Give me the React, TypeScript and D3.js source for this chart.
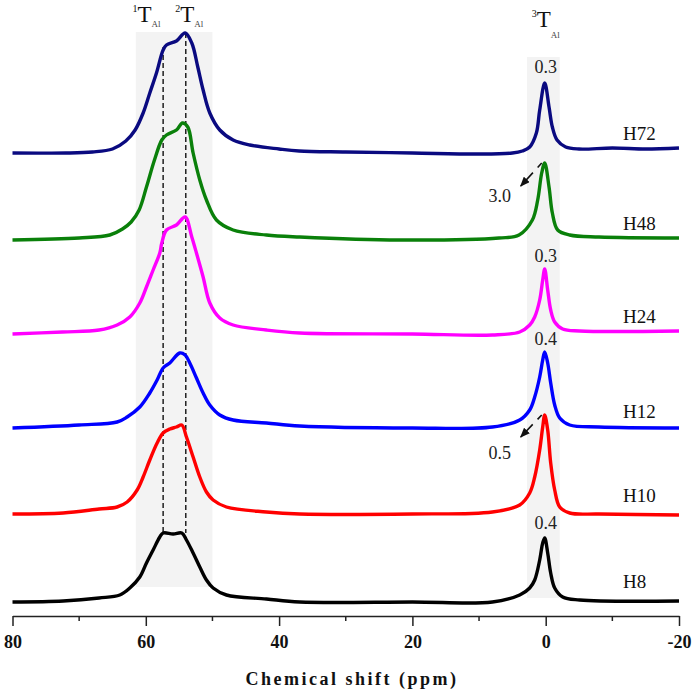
import * as d3 from "d3";
import { useEffect, useRef } from "react";

// stacked 27Al MAS NMR spectra; each point is [ppm, intensity above own baseline]
const h8: [number, number][] = [
  [80, 0], [72.4, 1], [67, 4], [63.9, 7], [62.4, 14], [60.9, 25], [59.9, 39], [58.9, 52], [57.9, 65],
  [57.4, 69], [55.9, 68], [54.6, 69], [53.9, 62], [52.9, 49], [51.9, 35], [50.9, 22], [49.9, 14],
  [47.9, 7], [41.9, 3], [36.9, 0], [20, 0], [8, 0], [3.9, 7], [2.4, 14], [1.65, 22], [0.9, 42],
  [0.45, 59], [0.15, 64], [-0.3, 49], [-0.75, 29], [-1.35, 14], [-2.55, 5], [-5.1, 2], [-20, 1],
];
const h10: [number, number][] = [
  [80, 0], [72.4, 1], [67, 5], [64.3, 7], [62.8, 12], [61.3, 24], [60.4, 37], [59.4, 54], [58.3, 71],
  [57.4, 81], [56.4, 85], [55.4, 87], [54.6, 89], [53.9, 77], [52.9, 57], [51.9, 37], [50.9, 22],
  [49.9, 14], [47.9, 7], [41.9, 2], [36.9, 0], [20, 0], [8, 2], [3.9, 9], [2.4, 21], [1.65, 37],
  [0.9, 64], [0.45, 87], [0.15, 99], [-0.3, 84], [-0.75, 51], [-1.35, 24], [-2.1, 7], [-3.6, 1],
  [-8, 0], [-20, -1],
];
const h12: [number, number][] = [
  [80, 0], [70, 3], [64.3, 6], [62.8, 11], [60.9, 21], [59.4, 35], [58.3, 48], [57.4, 60], [56.4, 65],
  [54.9, 75], [54.1, 73], [53.4, 65], [52.4, 50], [51.4, 35], [50.4, 23], [48.9, 13], [46.9, 8],
  [41.9, 5], [36.9, 2], [20, 0], [8, 1], [3.9, 8], [2.4, 18], [1.65, 31], [0.9, 51], [0.45, 68],
  [0.15, 76], [-0.3, 65], [-0.75, 45], [-1.35, 23], [-2.1, 10], [-3.6, 3], [-8, 1], [-20, 0],
];
const h24: [number, number][] = [
  [80, 0], [72.5, 2], [67, 4], [64.3, 9], [62.4, 17], [60.9, 31], [59.9, 47], [58.9, 64], [57.9, 81],
  [57.6, 91], [56.9, 104], [55.4, 109], [54.1, 117], [53.1, 97], [52.4, 81], [51.4, 57], [50.4, 31],
  [48.9, 16], [46.9, 9], [41.9, 4], [36.9, 1], [20, 0], [8, -1], [3.9, 2], [2.4, 9], [1.65, 17],
  [0.9, 34], [0.45, 54], [0.15, 65], [-0.3, 44], [-0.75, 24], [-1.35, 12], [-2.55, 5], [-5.1, 3],
  [-20, 3],
];
const h48: [number, number][] = [
  [80, 0], [70, 2], [65.4, 5], [63.5, 11], [62.2, 18], [61, 30], [59.9, 53], [58.7, 80], [57.6, 100], [56.9, 105],
  [55.4, 110], [54.5, 117], [53.7, 113], [52.9, 87], [51.9, 60], [50.9, 40], [49.4, 20], [46.9, 10],
  [41.9, 5], [36.9, 3], [22, 0], [7, 2], [4, 5], [2, 20], [1.2, 40], [0.6, 67], [0.15, 77], [-0.5, 53],
  [-1, 27], [-1.8, 10], [-3.6, 5], [-8, 3], [-20, 2],
];
const h72: [number, number][] = [
  [80, 0], [72, 0], [68, 1], [65, 4], [63, 12], [61.6, 23], [60.4, 40], [59.4, 60], [58.4, 80],
  [57.4, 103], [56.9, 108], [55.4, 112], [54.1, 120], [53.1, 110], [52.2, 86], [51.4, 63], [50.4, 40],
  [48.9, 23], [46.9, 13], [44.4, 8], [40, 4], [37, 2], [30, 1], [20, 0], [10, -1], [5, 0], [3.5, 2],
  [2.4, 6], [1.4, 20], [0.9, 43], [0.15, 70], [-0.5, 46], [-1, 26], [-1.7, 13], [-3, 6], [-5, 4],
  [-10, 5], [-15, 4], [-20, 5],
];

const samples = ["H8", "H10", "H12", "H24", "H48", "H72"];
const series = [h8, h10, h12, h24, h48, h72];
const offsets = [14, 102, 188, 282, 376, 463];
const colors = ["#000000", "#ff0000", "#0000ff", "#ff00ff", "#0a800a", "#0a0a80"];
const nameRise = [14, 12, 10, 11, 10, 13];

// peak-width labels on the 0 ppm signal: [sample index, text, ppm, rise above baseline]
const widthLabels: [number, string, number, number][] = [
  [0, "0.4", 0, 73],
  [1, "0.5", 6.9, 55],
  [2, "0.4", 0, 83],
  [3, "0.3", 0, 72],
  [4, "3.0", 6.9, 38],
  [5, "0.3", 0, 80],
];
// arrows: [sample index, from ppm, from rise, to ppm, to rise]
const arrows: [number, number, number, number, number][] = [
  [1, 0.6, 99, 3.75, 77],
  [4, 0.6, 77, 3.75, 54],
];

const siteShifts = [57.4, 54];
const bands: [number, number, number, number][] = [
  [61.5, 50, 29, 584],
  [2.8, -2.1, 18, 559],
];
const majorTicks = [80, 60, 40, 20, 0, -20];
const minorTicks = [70, 50, 30, 10, -10];

const FONT = "'Liberation Serif', 'Times New Roman', serif";

export default function App() {
  const svgRef = useRef<SVGSVGElement | null>(null);

  useEffect(() => {
    if (!svgRef.current) return;
    const width = 692, height = 691;
    const svg = d3.select(svgRef.current).attr("width", width).attr("height", height);
    svg.selectAll("*").remove();

    const x = d3.scaleLinear().domain([80, -20]).range([12.5, 679]);
    const y = d3.scaleLinear().domain([0, 600]).range([616, 16]);

    svg.append("defs").append("marker")
      .attr("id", "head")
      .attr("markerUnits", "userSpaceOnUse")
      .attr("markerWidth", 10).attr("markerHeight", 8)
      .attr("refX", 9).attr("refY", 4)
      .attr("orient", "auto")
      .append("path").attr("d", "M0,0 L10,4 L0,8 Z").attr("fill", "#111");

    // shaded regions
    svg.selectAll(".band").data(bands).enter().append("rect")
      .attr("x", d => x(d[0]))
      .attr("width", d => x(d[1]) - x(d[0]))
      .attr("y", d => y(d[3]))
      .attr("height", d => y(d[2]) - y(d[3]))
      .attr("fill", "#f3f3f3");

    // site guides
    const guideTop = [offsets[5] + 106, offsets[5] + 120];
    svg.selectAll(".guide").data(siteShifts).enter().append("line")
      .attr("x1", d => x(d)).attr("x2", d => x(d))
      .attr("y1", (_, i) => y(guideTop[i]))
      .attr("y2", y(offsets[0] + 69))
      .attr("stroke", "#111").attr("stroke-width", 1.4)
      .attr("stroke-dasharray", "5 3");

    const line = d3.line<[number, number]>().curve(d3.curveCatmullRom.alpha(0.5));

    series.forEach((pts, i) => {
      line.x(d => x(d[0])).y(d => y(offsets[i] + d[1]));
      svg.append("path")
        .attr("d", line(pts))
        .attr("fill", "none")
        .attr("stroke", colors[i])
        .attr("stroke-width", 3.4)
        .attr("stroke-linejoin", "round");

      svg.append("text")
        .attr("x", x(-11.6))
        .attr("y", y(offsets[i] + nameRise[i]))
        .attr("font-family", FONT)
        .attr("font-size", 19)
        .attr("fill", "#111")
        .text(samples[i]);
    });

    svg.selectAll(".wl").data(widthLabels).enter().append("text")
      .attr("x", d => x(d[2]))
      .attr("y", d => y(offsets[d[0]] + d[3]))
      .attr("text-anchor", "middle")
      .attr("font-family", FONT)
      .attr("font-size", 18)
      .attr("fill", "#222")
      .text(d => d[1]);

    svg.selectAll(".arrow").data(arrows).enter().append("line")
      .attr("x1", d => x(d[1])).attr("y1", d => y(offsets[d[0]] + d[2]))
      .attr("x2", d => x(d[3])).attr("y2", d => y(offsets[d[0]] + d[4]))
      .attr("stroke", "#111").attr("stroke-width", 1.6)
      .attr("stroke-dasharray", "6 7 30")
      .attr("marker-end", "url(#head)");

    // site labels 1T, 2T, 3T (Al)
    const sites: [string, number, number, number][] = [
      ["1", 62, 594, 5],
      ["2", 55.6, 594, 5],
      ["3", 2.1, 589, 11],
    ];
    sites.forEach(([sup, ppm, base, subDrop]) => {
      const t = svg.append("text")
        .attr("x", x(ppm))
        .attr("y", y(base))
        .attr("font-family", FONT)
        .attr("fill", "#111");
      t.append("tspan").attr("font-size", 10).attr("dy", -10).text(sup);
      t.append("tspan").attr("font-size", 23).attr("dy", 10).text("T");
      t.append("tspan").attr("font-size", 9).attr("dy", subDrop).attr("fill", "#444").text("Al");
    });

    // x axis
    const axis = svg.append("g")
      .attr("transform", `translate(0,${y(0)})`)
      .call(d3.axisBottom(x).tickValues(majorTicks).tickSize(10).tickSizeOuter(0).tickFormat(d => String(d)));
    axis.select(".domain").attr("stroke", "#222").attr("stroke-width", 1.5);
    axis.selectAll(".tick line").attr("stroke", "#222").attr("stroke-width", 1.5);
    axis.selectAll(".tick text")
      .attr("y", 32).attr("dy", 0)
      .attr("fill", "#111")
      .attr("font-family", FONT)
      .attr("font-size", 18)
      .attr("font-weight", "bold");

    svg.append("g")
      .attr("transform", `translate(0,${y(0)})`)
      .selectAll("line").data(minorTicks).enter().append("line")
      .attr("x1", d => x(d)).attr("x2", d => x(d))
      .attr("y1", 0).attr("y2", 5)
      .attr("stroke", "#222").attr("stroke-width", 1.5);

    svg.append("text")
      .attr("x", 352)
      .attr("y", 685)
      .attr("text-anchor", "middle")
      .attr("font-family", FONT)
      .attr("font-size", 18)
      .attr("font-weight", "bold")
      .attr("letter-spacing", 2.5)
      .attr("fill", "#111")
      .text("Chemical shift (ppm)");
  }, []);

  return <svg ref={svgRef} style={{ position: "absolute", left: 0, top: 0, background: "#fff" }} />;
}
